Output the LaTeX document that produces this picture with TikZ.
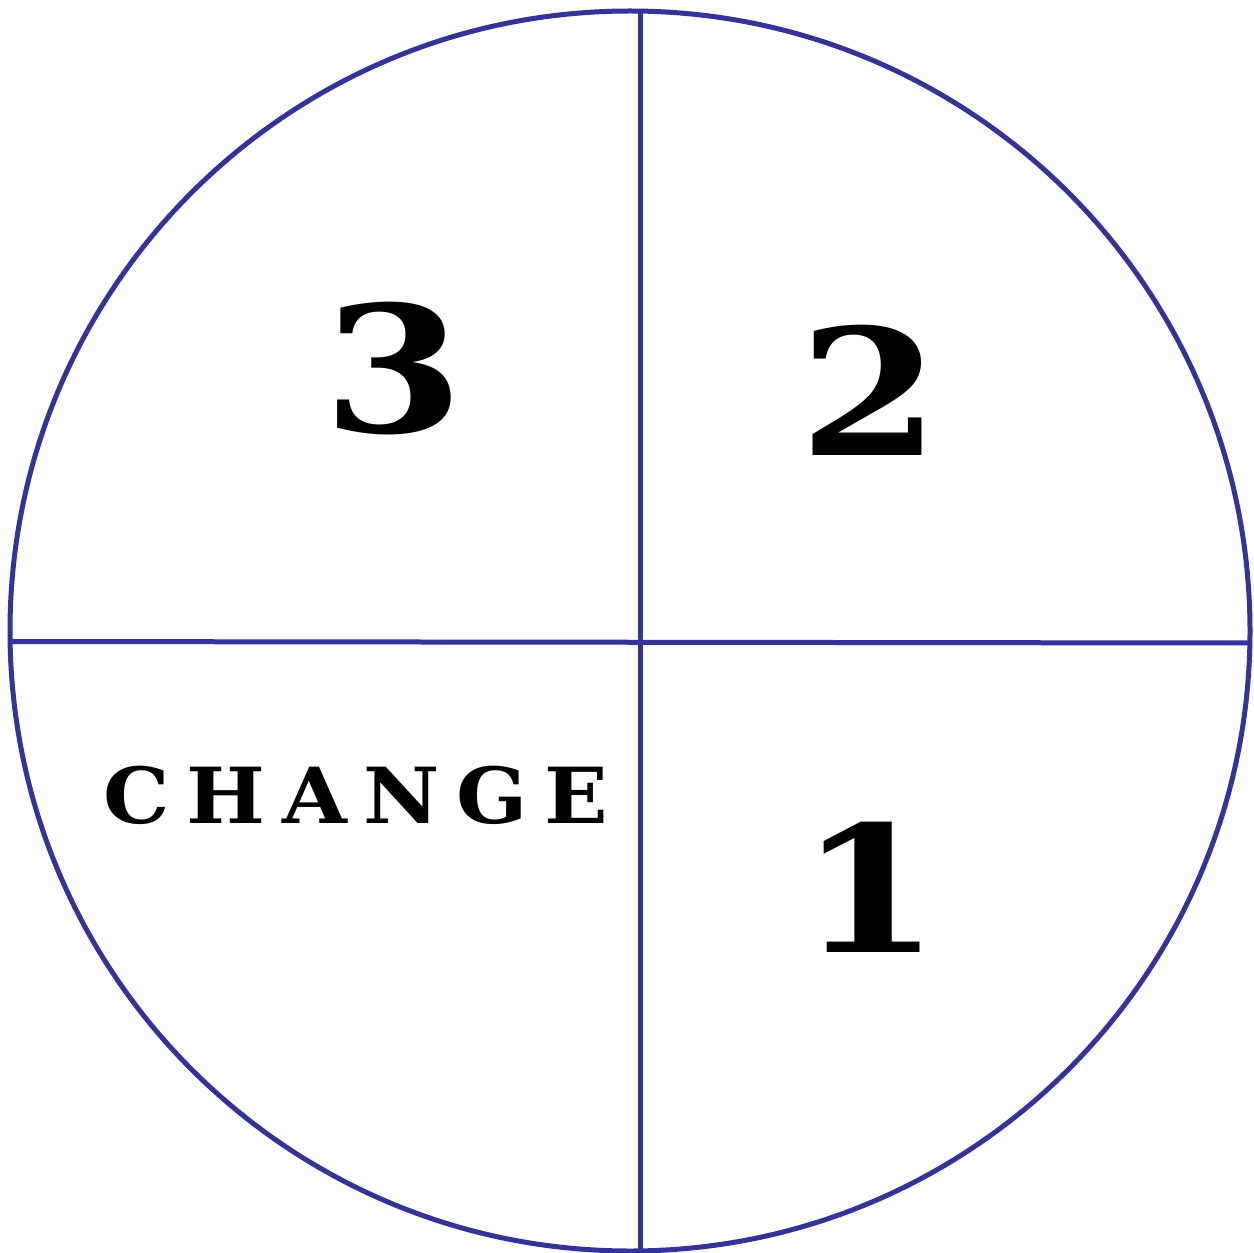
\documentclass[tikz,border=0pt]{standalone}
\usepackage{fontspec}
\newfontfamily\bigfont{DejaVu Serif}
\definecolor{ringblue}{HTML}{333399}
\begin{document}
\begin{tikzpicture}[x=0.02cm,y=-0.02cm,
  ring/.style={draw=ringblue,line width=0.1cm},
  digit/.style={inner sep=0pt,xscale=1.15,font=\bigfont\bfseries\fontsize{100}{100}\selectfont},
  word/.style={inner sep=0pt,xscale=1.08,font=\bigfont\bfseries\fontsize{44}{44}\selectfont\addfontfeature{LetterSpace=20}}]
\useasboundingbox (0,0) rectangle (1254,1253);
\coordinate (c) at (630,631);
\draw[ring] (c) circle[radius=620];
\coordinate (top) at (640.5,11.5);
\coordinate (bot) at (640.5,1250.5);
\coordinate (lft) at (10,641.5);
\coordinate (rgt) at (1250,643);
\draw[ring] (top) -- (bot);
\draw[ring] (lft) -- (rgt);
\node[digit] (three) at (394,369) {3};
\node[digit] (two) at (870,390) {2};
\node[digit] (one) at (870,887) {1};
\node[word] (change) at (356,795) {CHANGE};
\end{tikzpicture}
\end{document}
